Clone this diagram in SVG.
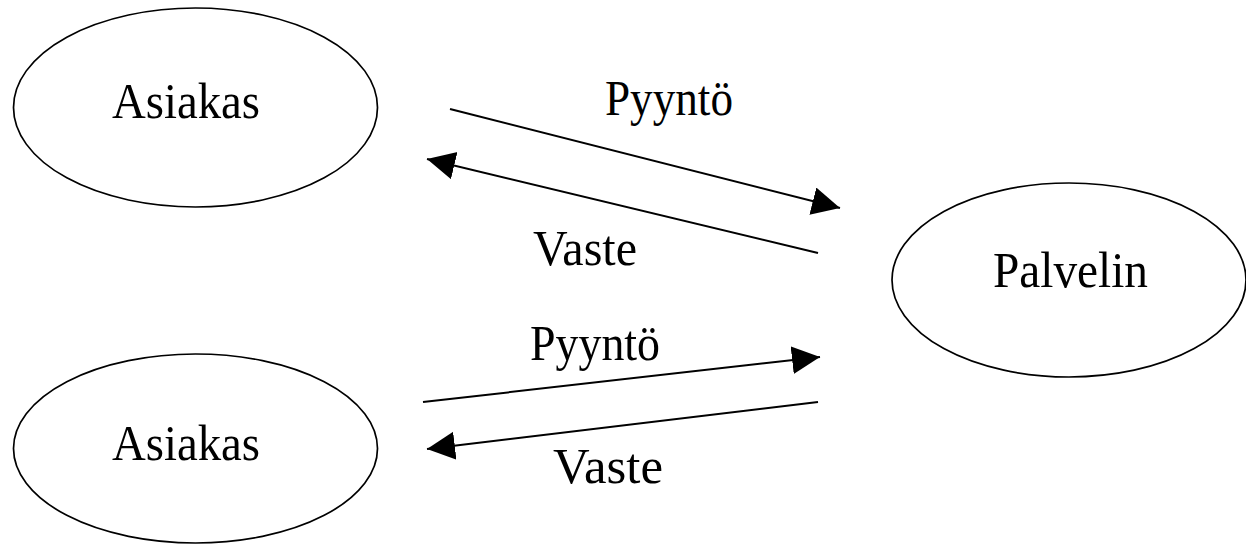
<svg xmlns="http://www.w3.org/2000/svg" width="1246" height="545" viewBox="0 0 1246 545">
  <style>
    .node { fill: none; stroke: #000; stroke-width: 1.7; }
    .lbl { font-family: "Liberation Serif", "Times New Roman", serif; font-size: 51px; fill: #000; }
    .edge { stroke: #000; stroke-width: 2; fill: none; marker-end: url(#head); }
  </style>
  <defs>
    <marker id="head" markerUnits="userSpaceOnUse" markerWidth="30" markerHeight="30" refX="28" refY="14" orient="auto">
      <path d="M0,0 L28,14 L0,28 z" fill="#000"/>
    </marker>
  </defs>
  <rect width="1246" height="545" fill="#fff"/>

  <g id="asiakas-1">
    <ellipse class="node" cx="195.5" cy="107.5" rx="182" ry="99.5"/>
    <text class="lbl" x="112" y="118" textLength="148" lengthAdjust="spacingAndGlyphs">Asiakas</text>
  </g>

  <g id="asiakas-2">
    <ellipse class="node" cx="195.5" cy="448.5" rx="182" ry="94.5"/>
    <text class="lbl" x="112" y="460" textLength="148" lengthAdjust="spacingAndGlyphs">Asiakas</text>
  </g>

  <g id="palvelin">
    <ellipse class="node" cx="1069" cy="280" rx="177" ry="97"/>
    <text class="lbl" x="993" y="287" textLength="155" lengthAdjust="spacingAndGlyphs">Palvelin</text>
  </g>

  <g id="connectors">
    <line class="edge" x1="450" y1="109" x2="840" y2="208"/>
    <line class="edge" x1="818" y1="253" x2="427" y2="159"/>
    <line class="edge" x1="423" y1="402" x2="820" y2="357"/>
    <line class="edge" x1="818" y1="402" x2="427" y2="449"/>
    <text class="lbl" x="605" y="115" textLength="128" lengthAdjust="spacingAndGlyphs">Pyyntö</text>
    <text class="lbl" x="533" y="265" textLength="104" lengthAdjust="spacingAndGlyphs">Vaste</text>
    <text class="lbl" x="530" y="360" textLength="130" lengthAdjust="spacingAndGlyphs">Pyyntö</text>
    <text class="lbl" x="553" y="483" textLength="110" lengthAdjust="spacingAndGlyphs">Vaste</text>
  </g>
</svg>
